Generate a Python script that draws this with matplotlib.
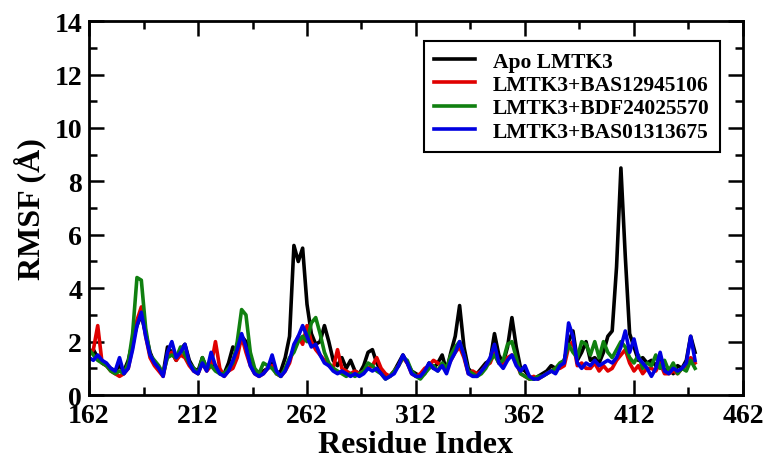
import matplotlib
matplotlib.use("Agg")
import matplotlib.pyplot as plt
import numpy as np
from matplotlib.ticker import MultipleLocator

plt.rcParams['font.family'] = ['Liberation Serif', 'DejaVu Serif']
plt.rcParams['font.weight'] = 'bold'

# residue index, every 2nd residue
residues = np.arange(162, 442, 2)

apo = [1.6, 1.7, 1.4, 1.2, 1.1, 1.0, 0.9, 1.1, 0.9, 1.3,
       2.0, 2.6, 3.0, 2.3, 1.6, 1.2, 1.0, 0.8, 1.8, 1.6,
       1.3, 1.7, 1.9, 1.3, 1.0, 0.9, 1.4, 1.0, 1.2, 1.1,
       0.8, 0.8, 1.2, 1.8, 1.6, 2.2, 2.0, 1.3, 0.9, 0.8,
       0.9, 1.0, 1.2, 0.8, 0.9, 1.4, 2.2, 5.6, 5.0, 5.5,
       3.4, 2.3, 1.9, 2.0, 2.6, 2.0, 1.3, 1.1, 1.4, 1.0,
       1.3, 0.9, 0.8, 1.1, 1.6, 1.7, 1.2, 0.9, 0.7, 0.7,
       0.9, 1.2, 1.5, 1.2, 0.9, 0.8, 0.7, 0.8, 1.2, 1.0,
       1.2, 1.5, 0.9, 1.6, 2.2, 3.35, 1.8, 1.0, 0.8, 0.8,
       1.0, 1.2, 1.3, 2.3, 1.5, 1.2, 1.8, 2.9, 1.8, 1.0,
       0.9, 0.7, 0.6, 0.7, 0.8, 0.9, 1.1, 1.0, 1.1, 1.3,
       2.0, 2.4, 1.3, 1.6, 2.0, 1.3, 1.4, 1.2, 1.6, 2.2,
       2.4, 4.8, 8.5, 5.2, 2.3, 1.8, 1.3, 1.4, 1.2, 1.3,
       1.1, 1.4, 0.9, 1.0, 0.8, 1.1, 1.0, 1.3, 2.2, 1.6]

bas129 = [1.5, 1.7, 2.6, 1.2, 1.1, 0.9, 0.8, 0.7, 0.8, 1.0,
          1.8, 2.8, 3.3, 2.2, 1.4, 1.1, 0.9, 0.7, 1.5, 1.6,
          1.3, 1.5, 1.4, 1.1, 0.9, 0.8, 1.2, 0.9, 1.1, 2.0,
          1.0, 0.7, 0.9, 1.0, 1.4, 2.2, 1.6, 1.1, 0.8, 0.7,
          0.8, 1.0, 1.1, 0.8, 0.7, 0.9, 1.2, 1.8, 2.2, 1.9,
          2.6, 2.0, 1.7, 1.5, 1.3, 1.1, 1.0, 1.7, 1.0, 0.9,
          0.8, 0.9, 0.8, 0.9, 1.0, 1.1, 1.4, 1.0, 0.8, 0.7,
          0.9, 1.1, 1.4, 1.2, 0.8, 0.7, 0.8, 1.0, 1.1, 1.3,
          1.2, 1.1, 1.0, 1.3, 1.6, 1.8, 1.4, 0.8, 0.9, 0.8,
          0.9, 1.1, 1.2, 1.6, 1.2, 1.1, 1.4, 1.5, 1.2, 0.8,
          0.7, 0.6, 0.7, 0.6, 0.7, 0.8, 0.9, 1.0, 1.0, 1.1,
          1.8, 2.0, 1.1, 1.2, 1.0, 1.0, 1.2, 0.9, 1.1, 0.9,
          1.0, 1.3, 1.5, 1.7, 1.2, 0.9, 1.1, 0.8, 1.0, 1.0,
          0.9, 1.2, 0.8, 0.8, 0.9, 0.8, 1.0, 1.1, 1.4, 1.2]

bdf240 = [1.7, 1.5, 1.3, 1.2, 1.1, 0.9, 0.8, 0.9, 0.8, 1.2,
          2.3, 4.4, 4.3, 2.5, 1.5, 1.3, 1.1, 0.8, 1.4, 1.5,
          1.4, 1.8, 1.5, 1.2, 1.0, 0.8, 1.4, 1.0, 1.1, 0.9,
          0.8, 0.8, 1.0, 1.2, 2.0, 3.2, 3.0, 1.6, 1.0, 0.8,
          1.2, 1.1, 1.0, 0.8, 0.7, 1.0, 1.4, 1.6, 2.0, 2.2,
          2.0, 2.7, 2.9, 2.3, 1.6, 1.2, 1.0, 0.9, 0.8, 0.7,
          0.8, 0.7, 0.8, 0.9, 1.2, 1.1, 0.9, 0.8, 0.6, 0.7,
          0.9, 1.1, 1.4, 1.3, 0.9, 0.7, 0.6, 0.8, 1.0, 1.1,
          0.9, 1.2, 1.0, 1.5, 1.8, 2.0, 1.5, 0.9, 0.8, 0.7,
          0.8, 1.0, 1.3, 1.5, 1.2, 1.3, 1.9, 2.0, 1.4, 0.8,
          0.7, 0.6, 0.6, 0.7, 0.7, 0.8, 0.9, 1.0, 1.2, 1.3,
          1.9, 1.6, 1.4, 2.0, 1.9, 1.5, 2.0, 1.4, 2.0, 1.6,
          1.4, 1.7, 2.0, 1.8, 1.4, 1.2, 1.5, 1.0, 1.2, 1.1,
          1.5, 1.0, 1.3, 0.9, 1.2, 0.8, 1.0, 0.9, 1.3, 1.0]

bas013 = [1.4, 1.3, 1.5, 1.3, 1.2, 1.0, 0.9, 1.4, 0.8, 1.0,
          1.7, 2.6, 3.1, 2.2, 1.5, 1.2, 1.0, 0.7, 1.6, 2.0,
          1.4, 1.6, 1.9, 1.2, 0.9, 0.8, 1.2, 0.9, 1.6, 1.1,
          0.8, 0.7, 0.9, 1.3, 1.7, 2.3, 1.8, 1.1, 0.8, 0.7,
          0.8, 1.0, 1.5, 0.9, 0.7, 0.9, 1.3, 1.9, 2.2, 2.6,
          2.2, 1.8, 1.9, 1.5, 1.2, 1.1, 0.9, 0.8, 0.9, 0.8,
          0.7, 0.8, 0.7, 0.8, 1.0, 0.9, 1.0, 0.8, 0.6, 0.7,
          0.8, 1.1, 1.5, 1.2, 0.8, 0.7, 0.7, 0.9, 1.2, 1.0,
          0.9, 1.1, 0.8, 1.3, 1.6, 2.0, 1.5, 0.8, 0.7, 0.7,
          0.9, 1.1, 1.4, 1.9, 1.2, 1.0, 1.3, 1.5, 1.1, 0.9,
          1.1, 0.7, 0.6, 0.6, 0.7, 0.8, 0.9, 0.8, 1.1, 1.2,
          2.7, 2.2, 1.2, 1.0, 1.2, 1.1, 1.3, 1.1, 1.2, 1.3,
          1.2, 1.4, 1.8, 2.4, 1.6, 2.1, 1.4, 1.2, 1.0, 0.7,
          1.0, 1.6, 0.9, 0.8, 1.0, 0.9, 1.0, 1.2, 2.2, 1.3]

labels = ['Apo LMTK3', 'LMTK3+BAS12945106', 'LMTK3+BDF24025570', 'LMTK3+BAS01313675']
colors = ['black', '#e00000', '#108010', '#0000e0']

fig = plt.figure(figsize=(7.64, 4.6), dpi=100)
ax = fig.add_axes([0.1165, 0.139, 0.856, 0.813])

for y, lab, c in zip([apo, bas129, bdf240, bas013], labels, colors):
    ax.plot(residues, y, color=c, lw=2.6, label=lab)

ax.set_xlim(162, 462)
ax.set_ylim(0, 14)
ax.set_xticks(np.arange(162, 463, 50))
ax.set_xticks(np.arange(187, 462, 50), minor=True)
ax.yaxis.set_major_locator(MultipleLocator(2))
ax.yaxis.set_minor_locator(MultipleLocator(1))
ax.tick_params(which='both', direction='in', top=True, right=True, width=1.8)
ax.tick_params(which='major', length=11, labelsize=20, pad=5)
ax.tick_params(axis='x', which='major', pad=6)
ax.tick_params(which='minor', length=6)
for s in ax.spines.values():
    s.set_linewidth(2)

ax.set_xlabel('Residue Index', fontsize=23, fontweight='bold', labelpad=1)
ax.set_ylabel('RMSF (Å)', fontsize=23, fontweight='bold', labelpad=6)

leg = ax.legend(loc='upper right', bbox_to_anchor=(0.965, 0.947), fontsize=15.5,
                handlelength=1.9, fancybox=False, framealpha=1, borderpad=0.5,
                labelspacing=0.15, handletextpad=0.8, borderaxespad=0)
leg.get_frame().set_edgecolor('black')
leg.get_frame().set_linewidth(1.5)
for t in leg.get_texts():
    t.set_fontweight('bold')

fig.savefig('out.png', dpi=100)
